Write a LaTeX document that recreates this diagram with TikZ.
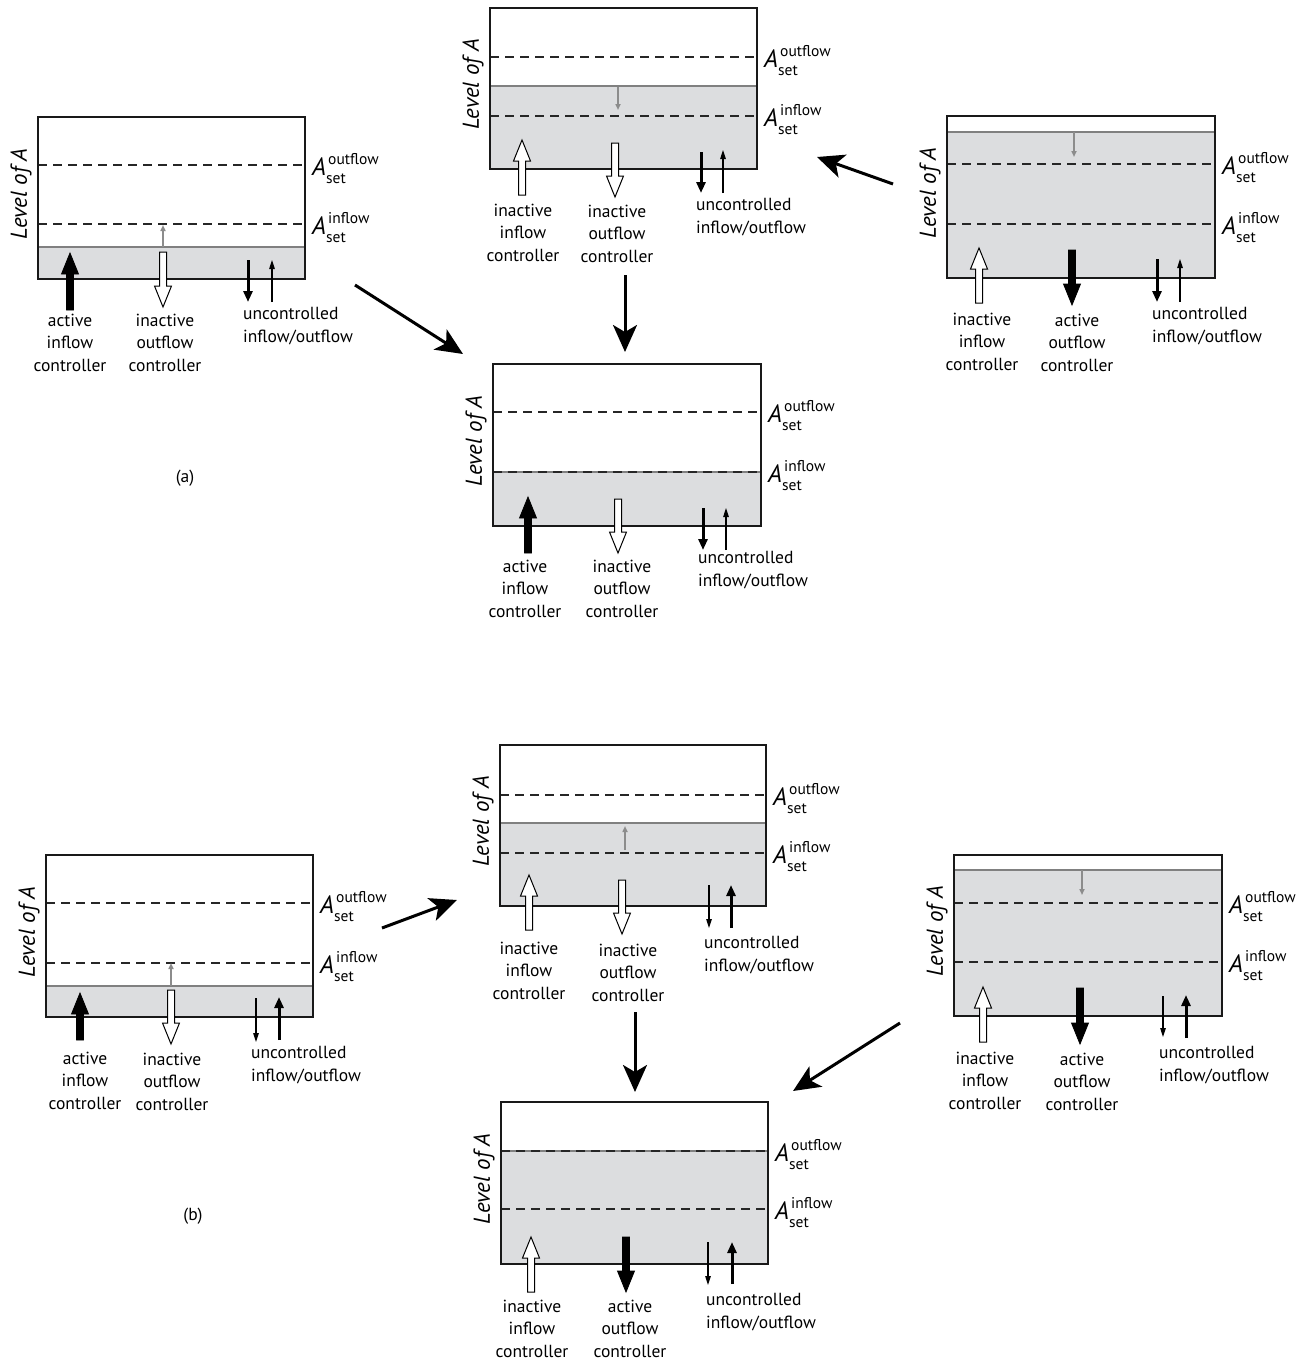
\documentclass[tikz,border=0pt]{standalone}
\usepackage{fontspec}
\setmainfont{PT Sans}
\usetikzlibrary{arrows.meta}
\definecolor{water}{RGB}{220,221,223}
\newcommand\lblfont{\fontsize{17.5}{22.5}\selectfont}
\newcommand\Aset[4]{%
  \node[Abig, anchor=base west] (#1) at ({#2+7},{#3+10.5}) {A};
  \node[Asmall, anchor=base west] (#1-sup) at ({#2+23},{#3-1}) {#4};
  \node[Asmall, anchor=base west] (#1-sub) at ({#2+21},{#3+18}) {set};
}
\newcommand\tankbox[8]{%
  \fill[water] (#2,#6) rectangle (#4,#5);
  \draw[levelline] (#2,#6) -- (#4,#6);
  \draw[setline] (#2,#7) -- (#4,#7);
  \draw[setline] (#2,#8) -- (#4,#8);
  \draw[wall] (#2,#3) rectangle (#4,#5);
  \node[levlab] (#1-lev) at ({#2-17},{(#3+#5)/2-4}) {Level of A};
  \Aset{#1-aout}{#4}{#7}{outflow}
  \Aset{#1-ain}{#4}{#8}{inflow}
}
\newcommand\fatarrow[4]{%
  \pgfmathsetmacro\fadir{ifthenelse(#4>#3,1,-1)}%
  \pgfmathsetmacro\faneck{#4-21*\fadir}%
  \draw[#1] ({#2-3.5},#3) -- ({#2-3.5},\faneck) -- ({#2-8.5},\faneck) -- (#2,#4) -- ({#2+8.5},\faneck) -- ({#2+3.5},\faneck) -- ({#2+3.5},#3) -- cycle;
}
\begin{document}
\begin{tikzpicture}[x=1pt,y=-1pt,
  wall/.style={draw=black!90, line width=1.5pt},
  levelline/.style={draw=black!50, line width=1.2pt},
  setline/.style={draw=black!85, line width=1.2pt, dash pattern=on 9pt off 6pt},
  levlab/.style={font=\fontsize{23}{23}\selectfont\itshape, rotate=90, inner sep=0pt},
  Abig/.style={font=\fontsize{25}{25}\selectfont\itshape, inner sep=0pt},
  Asmall/.style={font=\fontsize{15.5}{16}\selectfont, inner sep=0pt},
  actarrow/.style={fill=black, draw=black, line width=0.8pt, line join=miter},
  inactarrow/.style={fill=white, draw=black, line width=1pt, line join=miter},
  uthick/.style={draw=black, line width=3pt, -{Triangle[length=11pt,width=9pt]}},
  uthin/.style={draw=black, line width=1.1pt, -{Triangle[length=9pt,width=5.5pt]}},
  gind/.style={draw=black!45, line width=1.5pt, -{Triangle[length=6pt,width=5pt]}},
  lab/.style={font=\lblfont, align=center, anchor=north, inner sep=0pt},
  ulab/.style={font=\lblfont, align=left, anchor=north west, inner sep=0pt},
  plab/.style={font=\lblfont, inner sep=0pt},
  bigarrow/.style={draw=black, line width=3pt, -{Stealth[length=27pt,width=24pt,inset=7pt]}}
]
\fill[white] (0,0) rectangle (1309,1363);
\useasboundingbox (0,0) rectangle (1309,1363);

% ---------- (a) ----------
% a1
\tankbox{a1}{38}{117}{305}{279}{247}{165}{224}
\draw[gind] (163,247) -- (163,225);
\fatarrow{actarrow}{70}{310}{253}
\fatarrow{inactarrow}{163}{252}{307}
\draw[uthick] (248,260) -- (248,302);
\draw[uthin] (272,302) -- (272,260);
\node[lab] (a1-l1) at (70,313.5) {active\\inflow\\controller};
\node[lab] (a1-l2) at (165,313.5) {inactive\\outflow\\controller};
\node[ulab] (a1-l3) at (243,307.5) {uncontrolled\\inflow/outflow};

% a2
\tankbox{a2}{490}{8}{757}{169}{86}{57}{116}
\draw[gind] (618,87) -- (618,110);
\fatarrow{inactarrow}{522}{195}{140}
\fatarrow{inactarrow}{615}{143}{197}
\draw[uthick] (701,152) -- (701,193);
\draw[uthin] (723,193) -- (723,150);
\node[lab] (a2-l1) at (523,203.5) {inactive\\inflow\\controller};
\node[lab] (a2-l2) at (617,204.5) {inactive\\outflow\\controller};
\node[ulab] (a2-l3) at (696,198.5) {uncontrolled\\inflow/outflow};

% a3
\tankbox{a3}{947}{116}{1215}{278}{132}{164}{224}
\draw[gind] (1074,132) -- (1074,157);
\fatarrow{inactarrow}{979}{303}{248}
\fatarrow{actarrow}{1072}{250}{305}
\draw[uthick] (1157,259) -- (1157,302);
\draw[uthin] (1180,302) -- (1180,259);
\node[lab] (a3-l1) at (982,312.5) {inactive\\inflow\\controller};
\node[lab] (a3-l2) at (1077,313.5) {active\\outflow\\controller};
\node[ulab] (a3-l3) at (1152,307.5) {uncontrolled\\inflow/outflow};

% a4
\tankbox{a4}{493}{364}{761}{526}{472}{412}{472}
\fatarrow{actarrow}{528}{553}{497}
\fatarrow{inactarrow}{618}{499}{553}
\draw[uthick] (703,508) -- (703,550);
\draw[uthin] (726,550) -- (726,508);
\node[lab] (a4-l1) at (525,559.5) {active\\inflow\\controller};
\node[lab] (a4-l2) at (622,559.5) {inactive\\outflow\\controller};
\node[ulab] (a4-l3) at (698,551.5) {uncontrolled\\inflow/outflow};

\node[plab] (pa) at (185,478) {(a)};

\coordinate (c1s) at (355,285); \coordinate (c1e) at (463,354);
\coordinate (c2s) at (625,275); \coordinate (c2e) at (625,352);
\coordinate (c3s) at (893,184); \coordinate (c3e) at (817,157);
\draw[bigarrow] (c1s) -- (c1e);
\draw[bigarrow] (c2s) -- (c2e);
\draw[bigarrow] (c3s) -- (c3e);

% ---------- (b) ----------
% b1
\tankbox{b1}{46}{855}{313}{1017}{986}{903}{963}
\draw[gind] (171,986) -- (171,963);
\fatarrow{actarrow}{80}{1040}{993}
\fatarrow{inactarrow}{171}{990}{1044}
\draw[uthin] (256,998) -- (256,1042);
\draw[uthick] (279,1040) -- (279,997);
\node[lab] (b1-l1) at (85,1051.5) {active\\inflow\\controller};
\node[lab] (b1-l2) at (172,1052.5) {inactive\\outflow\\controller};
\node[ulab] (b1-l3) at (251,1046.5) {uncontrolled\\inflow/outflow};

% b2
\tankbox{b2}{500}{745}{766}{906}{823}{795}{853}
\draw[gind] (625,850) -- (625,826);
\fatarrow{inactarrow}{529}{930}{875}
\fatarrow{inactarrow}{622}{880}{934}
\draw[uthin] (709,885) -- (709,928);
\draw[uthick] (731,928) -- (731,885);
\node[lab] (b2-l1) at (529,941.5) {inactive\\inflow\\controller};
\node[lab] (b2-l2) at (628,943.5) {inactive\\outflow\\controller};
\node[ulab] (b2-l3) at (704,936.5) {uncontrolled\\inflow/outflow};

% b3
\tankbox{b3}{954}{855}{1222}{1016}{870}{903}{962}
\draw[gind] (1082,870) -- (1082,895);
\fatarrow{inactarrow}{983}{1042}{987}
\fatarrow{actarrow}{1080}{988}{1044}
\draw[uthin] (1163,996) -- (1163,1037);
\draw[uthick] (1186,1038) -- (1186,995);
\node[lab] (b3-l1) at (985,1051.5) {inactive\\inflow\\controller};
\node[lab] (b3-l2) at (1082,1052.5) {active\\outflow\\controller};
\node[ulab] (b3-l3) at (1159,1046.5) {uncontrolled\\inflow/outflow};

% b4
\tankbox{b4}{501}{1102}{768}{1264}{1151}{1151}{1209}
\fatarrow{inactarrow}{531}{1292}{1237}
\fatarrow{actarrow}{626}{1237}{1292}
\draw[uthin] (708,1242) -- (708,1285);
\draw[uthick] (732,1284) -- (732,1242);
\node[lab] (b4-l1) at (532,1299.5) {inactive\\inflow\\controller};
\node[lab] (b4-l2) at (630,1299.5) {active\\outflow\\controller};
\node[ulab] (b4-l3) at (706,1293.5) {uncontrolled\\inflow/outflow};

\node[plab] (pb) at (193,1216) {(b)};

\coordinate (d1s) at (382,928); \coordinate (d1e) at (457,900);
\coordinate (d2s) at (635,1012); \coordinate (d2e) at (635,1092);
\coordinate (d3s) at (900,1023); \coordinate (d3e) at (793,1091);
\draw[bigarrow] (d1s) -- (d1e);
\draw[bigarrow] (d2s) -- (d2e);
\draw[bigarrow] (d3s) -- (d3e);
\end{tikzpicture}
\end{document}
